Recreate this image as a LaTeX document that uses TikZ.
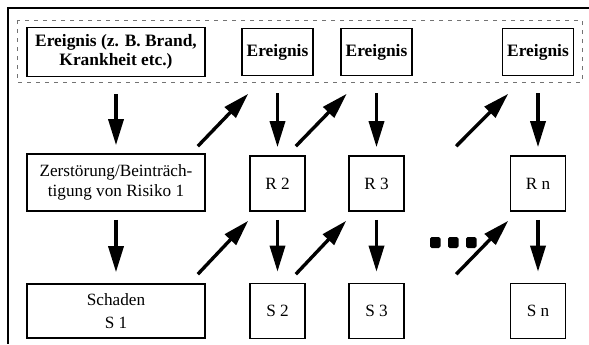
\documentclass[tikz,border=0pt]{standalone}
\usepackage{fontspec}
\setmainfont{Liberation Serif}
\usetikzlibrary{arrows.meta}

\tikzset{
  box/.style={draw,line width=0.8pt,align=center,inner sep=1pt},
  wide/.style={box,minimum width=89pt},
  small/.style={box,minimum width=27.5pt,minimum height=27.5pt},
  ev/.style={box,font=\fontsize{8.7}{9.8}\selectfont\bfseries,minimum width=35.5pt,minimum height=23.5pt},
  arr/.style={line width=1.7pt,-{Triangle[length=13pt,width=7.5pt]}},
}

\begin{document}
\begin{tikzpicture}[x=0.5pt,y=-0.5pt,font=\fontsize{8.6}{10}\selectfont]
\useasboundingbox (0,0) rectangle (589,344);
% frame and dashed event band
\draw[line width=1pt] (589,8) -- (8,8) -- (8,344);
\draw[black!55,line width=0.5pt,dash pattern=on 2pt off 2.5pt] (17,20) rectangle (582,82);
% events
\node[ev,minimum width=89pt,minimum height=24.5pt] (e1) at (116,52) {Ereignis (z. B. Brand,\\Krankheit etc.)};
\node[ev] (e2) at (277.5,52) {Ereignis};
\node[ev] (e3) at (376.5,52) {Ereignis};
\node[ev] (en) at (538,52) {Ereignis};
% risks
\node[wide,minimum height=28.5pt] (z) at (116,182.5) {Zerstörung/Beinträch-\\tigung von Risiko 1};
\node[small] (r2) at (277.5,183.5) {R 2};
\node[small] (r3) at (376.5,183.5) {R 3};
\node[small] (rn) at (538,183.5) {R n};
% damages
\node[wide,minimum height=27pt] (s1) at (116,311) {Schaden\\[1.5pt]S 1};
\node[small] (s2) at (277.5,311) {S 2};
\node[small] (s3) at (376.5,311) {S 3};
\node[small] (sn) at (538,311) {S n};
% vertical arrows
\foreach \a/\b in {e1/z,e2/r2,e3/r3,en/rn}
  \draw[arr,shorten <=8.5pt,shorten >=4pt] (\a) -- (\b);
\foreach \a/\b in {z/s1,r2/s2,r3/s3,rn/sn}
  \draw[arr,shorten <=4pt,shorten >=5.5pt] (\a) -- (\b);
% diagonal arrows
\draw[arr] ([shift={(-8,-7)}]z.north east) -- ([shift={(7,17.5)}]e2.south west);
\draw[arr] ([shift={(-10,-9)}]r2.north east) -- ([shift={(6.5,17.5)}]e3.south west);
\draw[arr] ([shift={(-53.5,-9)}]rn.north west) -- ([shift={(6.5,17.5)}]en.south west);
\draw[arr] ([shift={(-8,-9)}]s1.north east) -- ([shift={(-1,9)}]r2.south west);
\draw[arr] ([shift={(-10,-8.5)}]s2.north east) -- ([shift={(-2,9)}]r3.south west);
\draw[arr] ([shift={(-53.5,-8.5)}]sn.north west) -- ([shift={(-1.5,9)}]rn.south west);
% dots
\foreach \x in {430,448,466}
  \fill[rounded corners=0.8pt] (\x,237) rectangle ++(10.5,11);
\end{tikzpicture}
\end{document}
